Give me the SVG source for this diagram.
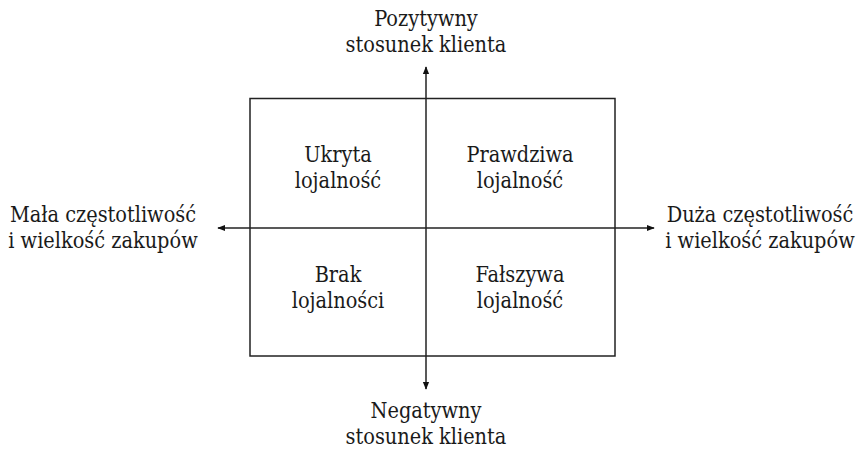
<svg xmlns="http://www.w3.org/2000/svg" width="861" height="449" viewBox="0 0 861 449">
<defs>
<style>
.t{font-size:21.5px;fill:#1a1a1a;text-anchor:middle;font-stretch:condensed}
.ln{stroke:#222;stroke-width:1.5;fill:none}
</style>
<marker id="ah" viewBox="0 0 10 10" refX="9" refY="5" markerWidth="8" markerHeight="8" markerUnits="userSpaceOnUse" orient="auto">
<path d="M0,1 L10,5 L0,9 Z" fill="#111"/>
</marker>
</defs>
<rect width="861" height="449" fill="#fff"/>
<g id="frame"><rect class="ln" x="250" y="98.5" width="365" height="257.5"/></g>
<g id="connectors">
<line class="ln" x1="426" y1="228" x2="426" y2="67" marker-end="url(#ah)"/>
<line class="ln" x1="426" y1="228" x2="426" y2="389" marker-end="url(#ah)"/>
<line class="ln" x1="426" y1="228" x2="218" y2="228" marker-end="url(#ah)"/>
<line class="ln" x1="426" y1="228" x2="654" y2="228" marker-end="url(#ah)"/>
</g>
<g class="t" font-family="'DejaVu Serif Condensed', 'DejaVu Serif', serif">
<g id="top"><text x="426" y="26">Pozytywny</text><text x="426" y="52">stosunek klienta</text></g>
<g id="bottom"><text x="426" y="418">Negatywny</text><text x="426" y="444">stosunek klienta</text></g>
<g id="left"><text x="103" y="222">Mała częstotliwość</text><text x="103" y="248">i wielkość zakupów</text></g>
<g id="right"><text x="760" y="222">Duża częstotliwość</text><text x="760" y="248">i wielkość zakupów</text></g>
<g id="q1"><text x="338" y="162">Ukryta</text><text x="338" y="188">lojalność</text></g>
<g id="q2"><text x="520" y="162">Prawdziwa</text><text x="520" y="188">lojalność</text></g>
<g id="q3"><text x="338" y="282">Brak</text><text x="338" y="308">lojalności</text></g>
<g id="q4"><text x="520" y="282">Fałszywa</text><text x="520" y="308">lojalność</text></g>
</g>
</svg>
